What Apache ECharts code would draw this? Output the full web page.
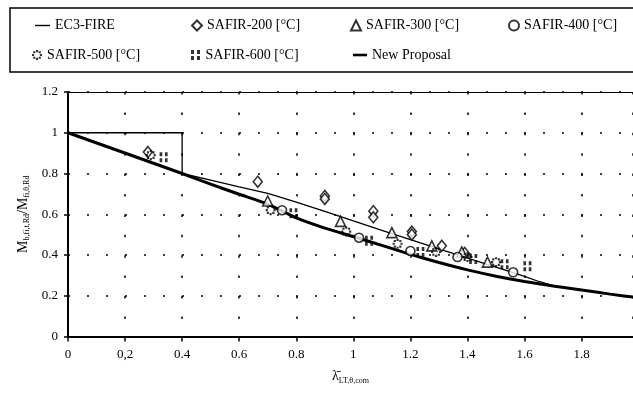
<!DOCTYPE html>
<html>
<head>
<meta charset="utf-8">
<script src="https://cdn.jsdelivr.net/npm/echarts@6/dist/echarts.min.js"></script>
<style>html,body{margin:0;padding:0;background:#fff}#c{width:633px;height:396px}</style>
</head>
<body>
<div id="c"></div>
<script>
// ---- data ----
const xTicks = ['0', '0,2', '0.4', '0.6', '0.8', '1', '1.2', '1.4', '1.6', '1.8', ''];
const yTicks = ['0', '0.2', '0.4', '0.6', '0.8', '1', '1.2'];

const ec3Fire = [[0,1],[0.4,1],[0.4,0.8],[0.5,0.767],[0.6,0.734],[0.7,0.702],[0.8,0.66],[0.9,0.614],[1.0,0.567],[1.1,0.521],[1.2,0.476],[1.3,0.43],[1.4,0.385],[1.5,0.34],[1.6,0.295],[1.65,0.27],[1.7,0.25]];
const newProposal = [[0,1],[0.4,0.8],[0.5,0.748],[0.6,0.698],[0.7,0.65],[0.8,0.582],[0.9,0.532],[1.0,0.49],[1.1,0.447],[1.2,0.403],[1.3,0.363],[1.4,0.327],[1.5,0.296],[1.6,0.27],[1.7,0.248],[1.8,0.228],[1.9,0.208],[2.0,0.19]];

const safir200 = [[0.28,0.905],[0.665,0.76],[0.9,0.69],[0.9,0.675],[1.07,0.615],[1.07,0.585],[1.205,0.515],[1.205,0.50],[1.31,0.445],[1.39,0.41]];
const safir300 = [[0.70,0.665],[0.955,0.565],[1.135,0.51],[1.275,0.445],[1.38,0.415],[1.47,0.365]];
const safir400 = [[0.75,0.62],[1.02,0.485],[1.20,0.42],[1.365,0.39],[1.56,0.315]];
const safir500 = [[0.29,0.89],[0.71,0.62],[0.975,0.515],[1.155,0.455],[1.29,0.415],[1.40,0.39],[1.50,0.365]];
const safir600 = [[0.335,0.88],[0.79,0.605],[1.055,0.47],[1.235,0.415],[1.42,0.38],[1.53,0.355],[1.61,0.345]];

const names = ['EC3-FIRE','SAFIR-200 [°C]','SAFIR-300 [°C]','SAFIR-400 [°C]','SAFIR-500 [°C]','SAFIR-600 [°C]','New Proposal'];

// ---- styling ----
const FONT = '"Liberation Serif", "Times New Roman", serif';
const ringPath = 'path://' + [[9,5],[7.83,7.83],[5,9],[2.17,7.83],[1,5],[2.17,2.17],[5,1],[7.83,2.17]]
  .map(p => 'M' + (p[0]-1.1) + ',' + (p[1]-1.1) + 'h2.2v2.2h-2.2Z').join('');
const dotsPath = 'path://M0,0h3v4h-3zM0,6h3v4h-3zM6,0h3v4h-3zM6,6h3v4h-3z';

const hollow = {color:'#fff', borderColor:'#000', borderWidth:1.6};
const XMAX = 1.98;

function legendAt(item, left, top, w, h) {
  return {
    data:[item], left:left, top:top, padding:0, itemGap:0,
    itemWidth:w, itemHeight:h || 10, selectedMode:false,
    textStyle:{fontFamily:FONT, fontSize:14, color:'#000', lineHeight:14}
  };
}

const chart = echarts.init(document.getElementById('c'), null, {renderer:'canvas'});
chart.setOption({
  animation:false,
  backgroundColor:'#fff',
  graphic:[{type:'rect', shape:{x:10, y:8, width:640, height:64}, style:{fill:'none', stroke:'#000', lineWidth:1.5}}],
  legend:[
    legendAt({name:names[0], icon:'rect', itemStyle:{color:'#000'}}, 35, 18.5, 15, 1.4),
    legendAt(names[1], 191, 18.5, 10),
    legendAt(names[2], 350, 18.5, 10),
    legendAt(names[3], 508, 18.5, 10),
    legendAt(names[4], 32, 48, 10),
    legendAt(names[5], 191, 48, 10),
    legendAt({name:names[6], icon:'rect', itemStyle:{color:'#000'}}, 353, 48, 14, 2.6)
  ],
  grid:{left:68, top:92, width:565, height:244.5},
  xAxis:[{
    type:'value', min:0, max:XMAX, interval:0.2,
    name:'{l|λ̄}{s|LT,θ,com}', nameLocation:'middle', nameGap:32,
    nameTextStyle:{rich:{l:{fontFamily:FONT, fontSize:14, color:'#000'}, s:{fontFamily:FONT, fontSize:8, color:'#000', padding:[8,0,0,0]}}},
    axisLine:{lineStyle:{color:'#000', width:2}},
    axisTick:{show:true, length:5, lineStyle:{color:'#000', width:1.5}},
    axisLabel:{margin:12, showMaxLabel:false, fontFamily:FONT, fontSize:13, color:'#000', formatter:(v)=>xTicks[Math.round(v/0.2)] || ''},
    splitLine:{show:true, lineStyle:{color:'#000', width:1.5, type:[2.5,17.9]}}
  },{
    type:'value', min:0, max:XMAX, interval:0.2, position:'top',
    axisLine:{show:true, lineStyle:{color:'#000', width:1.2}},
    axisTick:{show:false}, axisLabel:{show:false}, splitLine:{show:false}
  }],
  yAxis:{
    type:'value', min:0, max:1.2, interval:0.2,
    name:'{m|M}{s|b,fi,t,Rd}{m|/M}{s|fi,θ,Rd}', nameLocation:'middle', nameGap:34, nameRotate:90,
    nameTextStyle:{rich:{m:{fontFamily:FONT, fontSize:14, color:'#000'}, s:{fontFamily:FONT, fontSize:8, color:'#000', padding:[8,0,0,0]}}},
    axisLine:{show:true, lineStyle:{color:'#000', width:2}},
    axisTick:{show:true, length:4, lineStyle:{color:'#000', width:1.5}},
    axisLabel:{margin:10, fontFamily:FONT, fontSize:13, color:'#000', formatter:(v)=>yTicks[Math.round(v/0.2)]},
    splitLine:{show:true, lineStyle:{color:'#000', width:1.5, type:[2,17]}}
  },
  series:[
    {name:names[0], type:'line', data:ec3Fire, symbol:'none', lineStyle:{color:'#000', width:1.3}, itemStyle:{color:'#000'}, z:3},
    {name:names[1], type:'scatter', data:safir200, symbol:'diamond', symbolSize:[9,11], itemStyle:hollow, z:5},
    {name:names[2], type:'scatter', data:safir300, symbol:'triangle', symbolSize:[10,10], itemStyle:hollow, z:5},
    {name:names[3], type:'scatter', data:safir400, symbol:'circle', symbolSize:9, itemStyle:hollow, z:5},
    {name:names[4], type:'scatter', data:safir500, symbol:ringPath, symbolSize:10, itemStyle:{color:'#000'}, z:5},
    {name:names[5], type:'scatter', data:safir600, symbol:dotsPath, symbolSize:[8,10], itemStyle:{color:'#000'}, z:5},
    {name:names[6], type:'line', data:newProposal, symbol:'none', smooth:0.2, lineStyle:{color:'#000', width:3}, itemStyle:{color:'#000'}, z:4}
  ]
});
</script>
</body>
</html>
